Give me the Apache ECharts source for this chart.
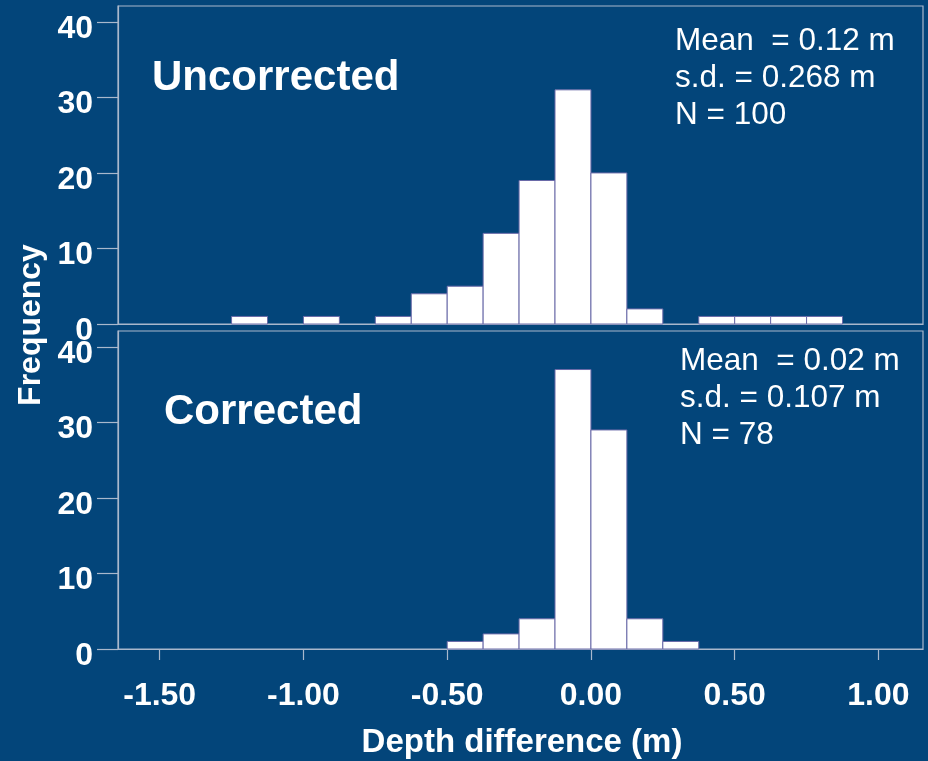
<!DOCTYPE html>
<html>
<head>
<meta charset="utf-8">
<script src="https://cdn.jsdelivr.net/npm/echarts@6/dist/echarts.min.js"></script>
<style>
html,body{margin:0;padding:0;background:#03457a;}
#chart{width:928px;height:761px;}
</style>
</head>
<body>
<div id="chart"></div>
<script>
// ---- data ----
const binWidth = 0.125;
const binStarts = [-1.25, -1.125, -1.0, -0.875, -0.75, -0.625, -0.5, -0.375, -0.25, -0.125, 0.0, 0.125, 0.25, 0.375, 0.5, 0.625, 0.75];
const uncorrectedCounts = [1, 0, 1, 0, 1, 4, 5, 12, 19, 31, 20, 2, 0, 1, 1, 1, 1];
const correctedCounts   = [0, 0, 0, 0, 0, 0, 1, 2, 4, 37, 29, 4, 1, 0, 0, 0, 0];
const xTickValues = [-1.5, -1.0, -0.5, 0.0, 0.5, 1.0];
const yTickValues = [0, 10, 20, 30, 40];
const panelTitles = ['Uncorrected', 'Corrected'];
const statsUncorrected = ['Mean  = 0.12 m', 's.d. = 0.268 m', 'N = 100'];
const statsCorrected = ['Mean  = 0.02 m', 's.d. = 0.107 m', 'N = 78'];

const BG = '#03457a';
const AXIS = '#a9b8cc';
const FONT = '"Liberation Sans", Arial, sans-serif';

function toData(counts) {
  return binStarts.map((s, i) => [s, s + binWidth, counts[i]]).filter(d => d[2] > 0);
}

function renderBar(params, api) {
  const p0 = api.coord([api.value(0), api.value(2)]);
  const p1 = api.coord([api.value(1), 0]);
  return {
    type: 'rect',
    shape: { x: p0[0], y: p0[1], width: p1[0] - p0[0], height: p1[1] - p0[1] },
    style: { fill: '#ffffff', stroke: '#6a6aa8', lineWidth: 1 }
  };
}

const chart = echarts.init(document.getElementById('chart'), null, { renderer: 'canvas' });

function xAxisCfg(gridIndex, showLabels) {
  return {
    type: 'value', gridIndex, min: -1.645, max: 1.155,
    axisLine: { show: true, onZero: false, lineStyle: { color: AXIS, width: 1.2 } },
    axisTick: { show: showLabels, length: 11, lineStyle: { color: AXIS, width: 1.2 }, customValues: xTickValues },
    axisLabel: {
      show: showLabels, customValues: xTickValues, color: '#ffffff', fontFamily: FONT,
      fontWeight: 'bold', fontSize: 32, margin: 31,
      formatter: v => v.toFixed(2)
    },
    splitLine: { show: false }
  };
}
function yAxisCfg(gridIndex) {
  return {
    type: 'value', gridIndex, min: 0, max: 42.1,
    axisLine: { show: true, onZero: false, lineStyle: { color: AXIS, width: 1.2 } },
    axisTick: { show: true, length: 21, lineStyle: { color: AXIS, width: 1.2 }, customValues: yTickValues },
    axisLabel: {
      show: true, customValues: yTickValues, color: '#ffffff', fontFamily: FONT,
      fontWeight: 'bold', fontSize: 32, margin: 25, verticalAlign: 'top', lineHeight: 14
    },
    splitLine: { show: false }
  };
}

function statsText(lines, left, top) {
  return lines.map((t, i) => ({
    type: 'text', left: left, top: top + i * 37,
    style: { text: t, fill: '#ffffff', font: 'normal 31.5px ' + FONT }
  }));
}

chart.setOption({
  backgroundColor: BG,
  animation: false,
  grid: [
    { left: 118, top: 6, width: 805, height: 318, show: true, borderColor: AXIS, borderWidth: 1.2, backgroundColor: 'transparent' },
    { left: 118, top: 331, width: 805, height: 318, show: true, borderColor: AXIS, borderWidth: 1.2, backgroundColor: 'transparent' }
  ],
  xAxis: [xAxisCfg(0, false), xAxisCfg(1, true)],
  yAxis: [yAxisCfg(0), yAxisCfg(1)],
  series: [
    { type: 'custom', xAxisIndex: 0, yAxisIndex: 0, renderItem: renderBar, data: toData(uncorrectedCounts), encode: { x: [0, 1], y: 2 } },
    { type: 'custom', xAxisIndex: 1, yAxisIndex: 1, renderItem: renderBar, data: toData(correctedCounts), encode: { x: [0, 1], y: 2 } }
  ],
  graphic: [
    { type: 'text', left: 152, top: 57, style: { text: panelTitles[0], fill: '#fff', font: 'bold 42px ' + FONT } },
    { type: 'text', left: 164, top: 391, style: { text: panelTitles[1], fill: '#fff', font: 'bold 42px ' + FONT } },
    ...statsText(statsUncorrected, 675, 25),
    ...statsText(statsCorrected, 680, 345),
    { type: 'text', x: 522, y: 726, style: { text: 'Depth difference (m)', fill: '#fff', font: 'bold 33px ' + FONT, align: 'center', verticalAlign: 'top' } },
    { type: 'text', x: 31, y: 325, rotation: Math.PI / 2,
      style: { text: 'Frequency', fill: '#fff', font: 'bold 32px ' + FONT, align: 'center', verticalAlign: 'middle' } }
  ]
});
</script>
</body>
</html>
